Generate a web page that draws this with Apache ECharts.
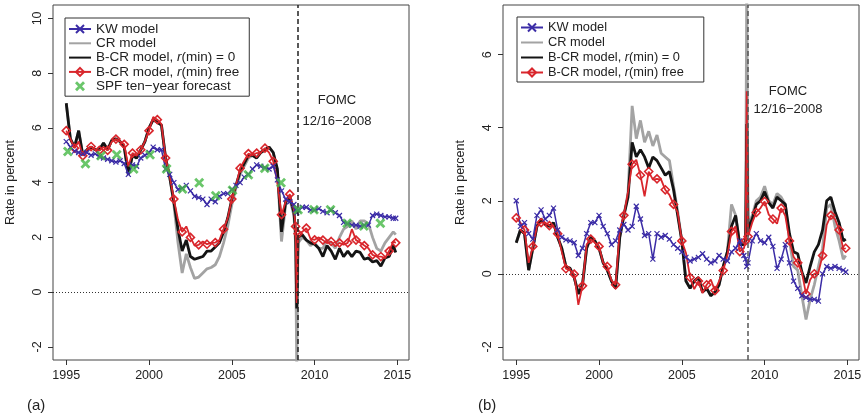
<!DOCTYPE html>
<html>
<head>
<meta charset="utf-8">
<script src="https://cdn.jsdelivr.net/npm/echarts@6/dist/echarts.min.js"></script>
<style>
html, body { margin: 0; padding: 0; background: #fff; }
#chart { width: 865px; height: 418px; }
</style>
</head>
<body>
<div id="chart"></div>
<script>
// sampling dates (quarterly, with extra points around the FOMC meeting)
const years = [
    1995, 1995.25, 1995.5, 1995.75, 1996, 1996.25, 1996.5, 1996.75,
    1997, 1997.25, 1997.5, 1997.75, 1998, 1998.25, 1998.5, 1998.75,
    1999, 1999.25, 1999.5, 1999.75, 2000, 2000.25, 2000.5, 2000.75,
    2001, 2001.25, 2001.5, 2001.75, 2002, 2002.25, 2002.5, 2002.75,
    2003, 2003.25, 2003.5, 2003.75, 2004, 2004.25, 2004.5, 2004.75,
    2005, 2005.25, 2005.5, 2005.75, 2006, 2006.25, 2006.5, 2006.75,
    2007, 2007.25, 2007.5, 2007.75, 2008, 2008.25, 2008.5, 2008.75,
    2008.85, 2008.92, 2009, 2009.25, 2009.5, 2009.75,
    2010, 2010.25, 2010.5, 2010.75, 2011, 2011.25, 2011.5, 2011.75,
    2012, 2012.25, 2012.5, 2012.75, 2013, 2013.25, 2013.5, 2013.75,
    2014, 2014.25, 2014.5, 2014.75, 2014.9
];

// panel (a)
const kwA = [
    5.5, 5.3, 5.15, 5.1, 5.05, 5.1, 5.0, 5.05,
    4.95, 4.9, 4.85, 4.8, 4.75, 4.8, 4.7, 4.3,
    4.65, 4.6, 4.9, 5.0, 5.1, 5.3, 5.2, 5.2,
    4.5, 4.3, 4.0, 3.75, 3.8, 3.9, 3.7, 3.5,
    3.45, 3.4, 3.2, 3.4, 3.3, 3.5, 3.6, 3.6,
    3.75, 3.9, 4.0, 4.2, 4.3, 4.5, 4.65, 4.6,
    4.55, 4.5, 4.6, 4.1, 3.7, 3.4, 3.3, 3.2,
    3.0, 2.9, 3.0, 3.1, 3.1, 3.0,
    3.0, 3.05, 2.95, 2.9, 3.0, 2.9, 2.8, 2.55,
    2.5, 2.45, 2.45, 2.4, 2.45, 2.45, 2.8, 2.85,
    2.8, 2.75, 2.75, 2.7, 2.7
];
const crA = [
    6.9, 5.6, 5.3, 5.9, 5.0, 5.2, 5.3, 5.2,
    5.2, 5.45, 5.2, 5.55, 5.6, 5.5, 5.3, 4.3,
    5.0, 4.9, 5.2, 5.5, 6.0, 6.3, 6.2, 6.1,
    4.9, 4.2, 3.2, 1.8, 0.7, 1.4, 0.9, 0.5,
    0.55, 0.7, 0.85, 0.9, 1.0, 1.3, 1.8, 2.4,
    3.2, 3.8, 4.3, 4.6, 4.9, 5.0, 4.9, 5.1,
    5.2, 5.3, 5.1, 4.4, 1.85, 3.2, 3.4, 2.8,
    1.8, -2.8, 1.8, 2.0, 1.9, 1.7,
    1.8, 1.6, 1.6, 1.9, 1.8, 1.6, 2.0, 2.3,
    2.4, 2.6, 2.3, 2.6, 2.6, 2.5, 2.0, 1.6,
    1.5, 1.8, 2.0, 2.2, 2.1
];
const bcrZeroA = [
    6.9, 5.6, 5.3, 5.9, 5.0, 5.2, 5.3, 5.2,
    5.2, 5.45, 5.2, 5.55, 5.6, 5.5, 5.3, 4.3,
    5.0, 4.9, 5.2, 5.5, 6.0, 6.3, 6.2, 6.1,
    4.9, 4.2, 3.3, 2.3, 1.5, 1.9, 1.3, 1.2,
    1.25, 1.3, 1.5, 1.5, 1.65, 1.8, 2.2, 2.7,
    3.4, 3.9, 4.4, 4.7, 5.0, 5.0, 4.9, 5.1,
    5.2, 5.3, 5.1, 4.5, 2.2, 3.3, 3.5, 2.9,
    2.2, -0.6, 2.0, 2.1, 1.9, 1.8,
    1.75, 1.6, 1.3, 1.7, 1.5, 1.2, 1.6, 1.3,
    1.5, 1.3, 1.5, 1.45, 1.2, 1.25, 1.1, 1.15,
    0.95, 1.25, 1.3, 1.7, 1.45
];
const bcrFreeA = [
    5.9, 5.6, 5.26, 5.5, 4.98, 5.2, 5.32, 5.2,
    5.18, 5.3, 5.18, 5.5, 5.59, 5.5, 5.4, 4.6,
    5.08, 4.98, 5.2, 5.51, 5.9, 6.4, 6.3, 6.14,
    4.9, 4.23, 3.4, 2.64, 2.2, 2.4, 2.0, 1.7,
    1.73, 1.85, 1.75, 1.8, 1.81, 1.9, 2.3, 2.7,
    3.4, 3.9, 4.53, 4.8, 5.06, 5.0, 5.08, 5.1,
    5.26, 5.1, 4.78, 4.0, 2.83, 3.3, 3.58, 3.0,
    2.4, -0.4, 2.13, 2.2, 2.34, 1.95,
    1.91, 2.0, 1.9, 1.79, 1.85, 1.67, 1.8, 1.73,
    1.8, 2.3, 1.9, 1.81, 1.7, 1.6, 1.36, 1.3,
    1.3, 1.24, 1.5, 1.85, 1.8
];
const spfYears = [
    1995.1, 1996.16, 1997.1, 1998.05, 1999.07, 2000.06, 2001.06, 2002.02,
    2003.03, 2004.03, 2005.04, 2006.0, 2006.99, 2007.97,
    2009.0, 2009.96, 2010.96, 2011.96, 2012.97, 2013.97
];
const spfVals = [
    5.14, 4.69, 4.98, 5.02, 4.5, 5.02, 4.5, 3.77,
    4.0, 3.52, 3.72, 4.29, 4.53, 4.0,
    3.01, 3.01, 3.01, 2.52, 2.42, 2.52
];

// panel (b)
const kwB = [
    2.0, 1.3, 1.4, 1.1, 0.95, 1.6, 1.75, 1.5,
    1.6, 1.8, 1.2, 1.0, 0.93, 0.9, 0.85, 0.5,
    0.7, 1.1, 1.4, 1.4, 1.6, 1.3, 1.1, 0.8,
    0.9, 1.2, 1.35, 1.2, 1.3, 1.85, 1.5, 1.05,
    1.1, 0.4, 1.1, 1.0, 1.05, 0.95, 0.8, 0.7,
    0.6, 0.45, 0.35, 0.4, 0.45, 0.55, 0.4, 0.3,
    0.35, 0.5, 0.4, 0.35, 0.6, 0.7, 0.9, 0.5,
    0.4, 0.2, 0.3, 0.9, 1.1, 0.9,
    0.85, 1.0, 0.75, 0.15, 0.4, 0.8, 0.3, -0.2,
    -0.4, -0.6, -0.65, -0.7, -0.7, -0.75, 0.0, 0.2,
    0.15, 0.2, 0.15, 0.1, 0.05
];
const crB = [
    0.85, 1.2, 1.1, 0.1, 0.7, 1.3, 1.5, 1.35,
    1.3, 1.4, 1.0, 0.7, 0.2, 0.15, -0.1, -0.55,
    -0.3, 0.7, 1.0, 0.9, 0.7, 0.3, 0.1, -0.2,
    -0.4, 1.0, 1.6, 2.2, 4.6, 3.7, 4.2, 3.6,
    3.9, 3.5, 3.8, 3.3, 3.2, 3.1, 2.4, 1.7,
    0.9, -0.2, -0.4, -0.2, -0.1, -0.5, -0.4, -0.6,
    -0.5, -0.3, 0.2, 0.6, 1.9, 1.6, 0.8, 0.8,
    1.0, 8.0, 1.3, 1.6, 2.0, 2.1,
    2.4, 2.0, 1.9, 2.2, 2.1, 1.9, 0.9, 0.2,
    0.1, -0.6, -1.25, -0.7, -0.3, 0.2, 0.7, 1.8,
    1.9, 1.3, 0.9, 0.4, 0.5
];
const bcrZeroB = [
    0.85, 1.2, 1.1, 0.1, 0.7, 1.3, 1.5, 1.35,
    1.3, 1.4, 1.0, 0.7, 0.2, 0.15, -0.1, -0.55,
    -0.3, 0.7, 1.0, 0.9, 0.7, 0.3, 0.1, -0.2,
    -0.4, 1.0, 1.6, 2.1, 3.6, 3.2, 3.4, 3.2,
    2.9, 3.2, 3.1, 2.9, 2.7, 2.8, 2.3, 1.6,
    0.9, -0.2, -0.4, -0.2, -0.1, -0.5, -0.4, -0.6,
    -0.5, -0.3, 0.2, 0.6, 1.3, 1.6, 0.8, 0.8,
    0.9, 4.1, 1.2, 1.5, 1.9, 2.0,
    2.25, 1.95, 1.8, 2.1, 2.0, 1.9, 1.1, 0.6,
    0.55, 0.05, -0.25, 0.2, 0.6, 0.8, 1.2, 2.0,
    2.1, 1.7, 1.4, 0.9, 0.95
];
const bcrFreeB = [
    1.53, 1.4, 1.2, 0.3, 0.75, 1.3, 1.4, 1.4,
    1.32, 1.3, 1.1, 0.6, 0.14, 0.1, -0.01, -0.85,
    -0.33, 0.8, 0.95, 0.85, 0.75, 0.3, 0.2, -0.18,
    -0.3, 1.2, 1.6, 2.25, 3.0, 3.12, 2.7, 2.12,
    2.8, 2.58, 2.6, 2.58, 2.3, 2.16, 1.9, 1.68,
    0.9, 0.57, -0.1, -0.42, -0.2, -0.53, -0.3, -0.16,
    -0.46, -0.2, 0.09, 0.5, 1.16, 1.3, 0.61, 0.7,
    0.9, 5.0, 1.02, 1.4, 1.68, 1.8,
    1.98, 1.62, 1.5, 1.37, 1.8, 1.59, 0.9, 0.47,
    0.3, 0.04, -0.55, -0.16, 0.0, 0.04, 0.5, 1.34,
    1.6, 1.5, 1.2, 0.68, 0.7
];

const xTicks = [1995, 2000, 2005, 2010, 2015];
const yTicksA = [-2, 0, 2, 4, 6, 8, 10];
const yTicksB = [-2, 0, 2, 4, 6];
const fomcDate = 2008.96;

const FONT = 'Liberation Sans, Arial, Helvetica, sans-serif';
const BLUE = '#3b2ca6';
const GRAY = '#a3a3a3';
const BLACK = '#141414';
const RED = '#d9262c';
const GREEN = '#45b845';
const X_MARK = 'path://M0,0L10,10M10,0L0,10';
const X_BOLD = 'path://M2,0L5,3L8,0L10,2L7,5L10,8L8,10L5,7L2,10L0,8L3,5L0,2Z';
const NO_MARK = 'path://M0,0L1,1';

function pairs(vals) {
    return vals.map((v, i) => [years[i], v]);
}

// open diamonds on every other point
function diamondPairs(vals) {
    return vals.map((v, i) => (i % 2 === 0 ? [years[i], v] : { value: [years[i], v], symbol: 'none' }));
}

function makeXAxis(idx) {
    return {
        type: 'value', gridIndex: idx, min: 1994.2, max: 2015.7,
        axisLine: { show: false, onZero: false },
        axisTick: { show: true, length: 5, customValues: xTicks, lineStyle: { color: '#333' } },
        axisLabel: {
            customValues: xTicks, margin: 9, color: '#222', fontSize: 12.5, fontFamily: FONT,
            formatter: v => String(v)
        },
        splitLine: { show: false }
    };
}

function makeYAxis(idx, min, max, ticks) {
    return {
        type: 'value', gridIndex: idx, min: min, max: max,
        name: 'Rate in percent', nameLocation: 'middle', nameGap: 36,
        nameTextStyle: { color: '#222', fontSize: 12.5, fontFamily: FONT },
        axisLine: { show: false, onZero: false },
        axisTick: { show: true, length: 5, customValues: ticks, lineStyle: { color: '#333' } },
        axisLabel: {
            customValues: ticks, rotate: 90, margin: 9, color: '#222', fontSize: 12.5, fontFamily: FONT,
            formatter: v => String(v)
        },
        splitLine: { show: false }
    };
}

function panelSeries(idx, kw, cr, bz, bf, dashColor) {
    return [
        {
            name: 'CR model', type: 'line', xAxisIndex: idx, yAxisIndex: idx,
            data: pairs(cr), showSymbol: false, symbol: NO_MARK,
            lineStyle: { color: GRAY, width: 2.8 },
            itemStyle: { color: 'rgba(0,0,0,0)', borderWidth: 0 }
        },
        {
            name: 'B-CR model, r(min) = 0', type: 'line', xAxisIndex: idx, yAxisIndex: idx,
            data: pairs(bz), showSymbol: false, symbol: NO_MARK,
            lineStyle: { color: BLACK, width: 2.8 },
            itemStyle: { color: 'rgba(0,0,0,0)', borderWidth: 0 },
            markLine: {
                silent: true, symbol: ['none', 'none'], label: { show: false },
                data: [
                    { yAxis: 0, lineStyle: { type: [1, 2], color: '#333', width: 1 } },
                    { xAxis: fomcDate, lineStyle: { type: [5, 3], color: dashColor, width: 1.5 } }
                ]
            }
        },
        {
            name: 'B-CR model, r(min) free', type: 'line', xAxisIndex: idx, yAxisIndex: idx,
            data: diamondPairs(bf), symbol: 'diamond', symbolSize: 8,
            lineStyle: { color: RED, width: 1.8 },
            itemStyle: { color: 'rgba(255,255,255,0)', borderColor: RED, borderWidth: 1.6 }
        },
        {
            name: 'KW model', type: 'line', xAxisIndex: idx, yAxisIndex: idx,
            data: pairs(kw), symbol: X_MARK, symbolSize: 5,
            lineStyle: { color: BLUE, width: 1.5 },
            itemStyle: { color: BLUE, borderColor: BLUE, borderWidth: 1.2 }
        }
    ];
}

function legendFormatter(name) {
    if (name.indexOf('r(min)') >= 0) {
        const parts = name.split('r(min)');
        return '{n|' + parts[0] + '}{i|r}{n|(min)' + parts[1] + '}';
    }
    return '{n|' + name + '}';
}

function makeLegend(left, top, names, size, gap, padRight) {
    return {
        left: left, top: top, orient: 'vertical', data: names,
        itemWidth: 22, itemHeight: 10, itemGap: gap,
        padding: [4, padRight, 3, 3],
        borderColor: '#333', borderWidth: 1, backgroundColor: '#fff',
        formatter: legendFormatter,
        selectedMode: false,
        textStyle: {
            color: '#222', fontSize: size, fontFamily: FONT, lineHeight: 13,
            rich: {
                n: { fontSize: size, fontFamily: FONT, color: '#222' },
                i: { fontSize: size, fontFamily: FONT, color: '#222', fontStyle: 'italic' }
            }
        }
    };
}

const chart = echarts.init(document.getElementById('chart'));

const names = ['KW model', 'CR model', 'B-CR model, r(min) = 0', 'B-CR model, r(min) free'];

chart.setOption({
    animation: false,
    grid: [
        { left: 53, right: 456, top: 5, bottom: 58, show: true, borderColor: '#444', borderWidth: 1 },
        { left: 503, right: 6, top: 5, bottom: 58, show: true, borderColor: '#444', borderWidth: 1 }
    ],
    xAxis: [makeXAxis(0), makeXAxis(1)],
    yAxis: [makeYAxis(0, -2.48, 10.49, yTicksA), makeYAxis(1, -2.36, 7.36, yTicksB)],
    legend: [
        makeLegend(65, 18, names.concat(['SPF ten−year forecast']), 13.5, 0.3, 10),
        makeLegend(517, 17, names, 12.8, 2, 20)
    ],
    series: panelSeries(0, kwA, crA, bcrZeroA, bcrFreeA, '#222')
        .concat([{
            name: 'SPF ten−year forecast', type: 'scatter', xAxisIndex: 0, yAxisIndex: 0,
            data: spfYears.map((y, i) => [y, spfVals[i]]),
            symbol: X_BOLD, symbolSize: 10, itemStyle: { color: GREEN }, z: 5
        }])
        .concat(panelSeries(1, kwB, crB, bcrZeroB, bcrFreeB, '#555')),
    graphic: [
        { type: 'text', left: 27, top: 398, style: { text: '(a)', fontSize: 15, fontFamily: FONT, fill: '#222' } },
        { type: 'text', left: 478, top: 398, style: { text: '(b)', fontSize: 15, fontFamily: FONT, fill: '#222' } },
        { type: 'text', x: 337, y: 100, style: { text: 'FOMC', fontSize: 13, fontFamily: FONT, fill: '#222', align: 'center', verticalAlign: 'middle' } },
        { type: 'text', x: 337, y: 121, style: { text: '12/16−2008', fontSize: 13, fontFamily: FONT, fill: '#222', align: 'center', verticalAlign: 'middle' } },
        { type: 'text', x: 788, y: 91, style: { text: 'FOMC', fontSize: 13, fontFamily: FONT, fill: '#222', align: 'center', verticalAlign: 'middle' } },
        { type: 'text', x: 788, y: 109, style: { text: '12/16−2008', fontSize: 13, fontFamily: FONT, fill: '#222', align: 'center', verticalAlign: 'middle' } }
    ]
});

window.addEventListener('resize', function() {
    chart.resize();
});
</script>
</body>
</html>
